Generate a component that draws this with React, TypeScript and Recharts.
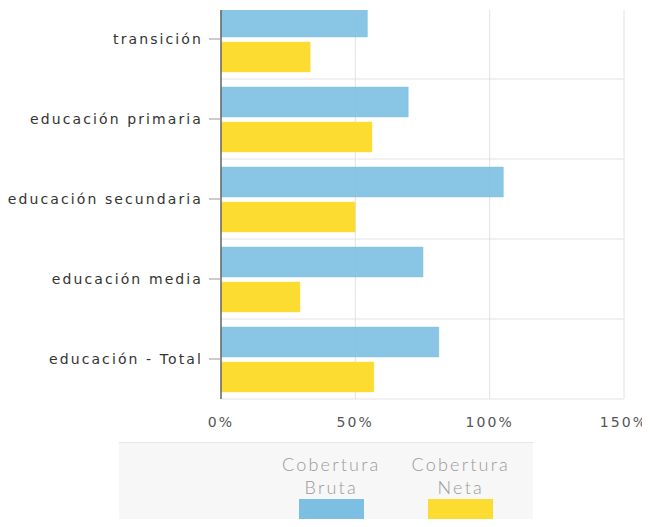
import { Bar, BarChart, CartesianGrid, XAxis, YAxis } from "recharts";

const categories = [
  "transición",
  "educación primaria",
  "educación secundaria",
  "educación media",
  "educación - Total",
];
const cobBruta = [54.5, 69.7, 105.1, 75.2, 81.1];
const cobNeta = [33.2, 56.2, 49.9, 29.4, 56.9];
const xTicks = [0, 50, 100, 150];

const series = [
  { key: "bruta", name: ["Cobertura", "Bruta"], color: "#7cbfe2" },
  { key: "neta", name: ["Cobertura", "Neta"], color: "#fddc32" },
];

const data = categories.map((name, i) => ({ name, bruta: cobBruta[i], neta: cobNeta[i] }));

const tickFont = { fontFamily: "DejaVu Sans", fontSize: 14, letterSpacing: 2.1 };

function bandLines({ offset }: any) {
  const n = categories.length;
  return Array.from({ length: n + 1 }, (_, i) => offset.top + (i * offset.height) / n);
}

export default function App() {
  return (
    <div style={{ position: "relative", width: 650, height: 527, margin: -8, overflow: "hidden" }}>
      {/* the source screenshot crops the top of the chart at y=10 */}
      <div style={{ position: "absolute", top: 10, left: 0, width: 650, height: 517, overflow: "hidden" }}>
        <div style={{ position: "absolute", top: -11, left: 0 }}>
          <BarChart
            width={650}
            height={528}
            data={data}
            layout="vertical"
            margin={{ top: 0, right: 26, bottom: 0, left: 0 }}
            barSize={30}
            barGap={5}
          >
            <CartesianGrid stroke="#e2e2e2" horizontalCoordinatesGenerator={bandLines} />
            <XAxis
              type="number"
              domain={[0, 150]}
              ticks={xTicks}
              tickFormatter={(v) => `${v}%`}
              axisLine={false}
              tickLine={false}
              tickSize={0}
              tickMargin={18}
              height={128}
              tick={{ ...tickFont, fill: "#555" }}
            />
            <YAxis
              type="category"
              dataKey="name"
              width={221}
              axisLine={{ stroke: "#666", strokeWidth: 1.5 }}
              tickLine={{ stroke: "#999" }}
              tickSize={12}
              tickMargin={6}
              tick={{ ...tickFont, fill: "#333" }}
            />
            {series.map((s) => (
              <Bar
                key={s.key}
                dataKey={s.key}
                fill={s.color}
                fillOpacity={s.key === "bruta" ? 0.9 : 1}
                stroke={s.color}
                strokeOpacity={0.4}
                isAnimationActive={false}
              />
            ))}
          </BarChart>
        </div>
      </div>
      <div
        style={{
          position: "absolute",
          left: 119,
          top: 442,
          width: 414,
          height: 95,
          background: "#f7f7f7",
          borderTop: "1.5px solid #e6e6e6",
          display: "flex",
          paddingLeft: 155,
          boxSizing: "border-box",
          fontFamily: "Lato",
          fontWeight: 300,
          fontSize: 18,
          letterSpacing: 2.2,
          color: "#999",
        }}
      >
        {series.map((s) => (
          <div
            key={s.key}
            style={{
              width: 120,
              marginRight: 15,
              display: "flex",
              flexDirection: "column",
              alignItems: "center",
              paddingTop: 10,
            }}
          >
            <div style={{ lineHeight: "23px" }}>{s.name[0]}</div>
            <div style={{ lineHeight: "23px" }}>{s.name[1]}</div>
            <div style={{ width: 65, height: 24, marginTop: 0, background: s.color }} />
          </div>
        ))}
      </div>
    </div>
  );
}
